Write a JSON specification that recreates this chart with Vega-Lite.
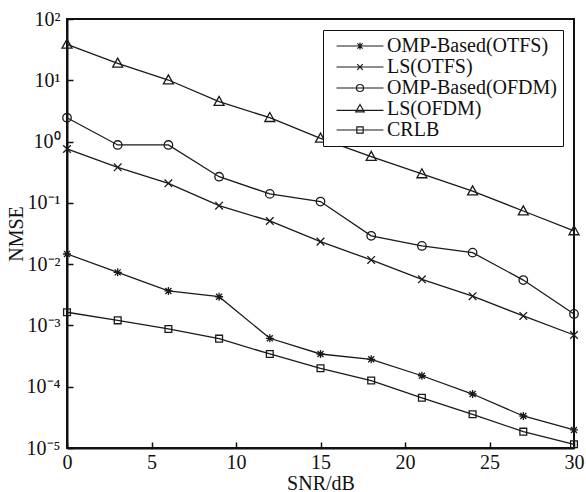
{
  "$schema": "https://vega.github.io/schema/vega-lite/v6.json",
  "width": 507,
  "height": 429,
  "autosize": "none",
  "padding": {"left": 67, "top": 19, "right": 12, "bottom": 44},
  "background": "white",
  "config": {
    "font": "Liberation Serif",
    "view": {"stroke": "#111", "strokeWidth": 2},
    "axis": {
      "domainColor": "#111", "domainWidth": 2,
      "tickColor": "#111", "tickWidth": 1.5, "tickSize": -6,
      "labelFont": "Liberation Serif", "labelFontSize": 20, "labelColor": "#111",
      "titleFont": "Liberation Serif", "titleFontSize": 20, "titleFontWeight": "normal", "titleColor": "#111",
      "grid": false
    },
    "legend": {
      "labelFont": "Liberation Serif", "labelFontSize": 20, "labelColor": "#111", "labelLimit": 400
    }
  },
  "data": {"values": [
    {"snr": 0, "series": "OMP-Based(OTFS)", "nmse": 0.01465},
    {"snr": 3, "series": "OMP-Based(OTFS)", "nmse": 0.00735},
    {"snr": 6, "series": "OMP-Based(OTFS)", "nmse": 0.00365},
    {"snr": 9, "series": "OMP-Based(OTFS)", "nmse": 0.00294},
    {"snr": 12, "series": "OMP-Based(OTFS)", "nmse": 0.000617},
    {"snr": 15, "series": "OMP-Based(OTFS)", "nmse": 0.000342},
    {"snr": 18, "series": "OMP-Based(OTFS)", "nmse": 0.00028},
    {"snr": 21, "series": "OMP-Based(OTFS)", "nmse": 0.000151},
    {"snr": 24, "series": "OMP-Based(OTFS)", "nmse": 0.000076},
    {"snr": 27, "series": "OMP-Based(OTFS)", "nmse": 0.0000333},
    {"snr": 30, "series": "OMP-Based(OTFS)", "nmse": 0.0000197},
    {"snr": 0, "series": "LS(OTFS)", "nmse": 0.757},
    {"snr": 3, "series": "LS(OTFS)", "nmse": 0.38},
    {"snr": 6, "series": "LS(OTFS)", "nmse": 0.208},
    {"snr": 9, "series": "LS(OTFS)", "nmse": 0.09},
    {"snr": 12, "series": "LS(OTFS)", "nmse": 0.0506},
    {"snr": 15, "series": "LS(OTFS)", "nmse": 0.0233},
    {"snr": 18, "series": "LS(OTFS)", "nmse": 0.0117},
    {"snr": 21, "series": "LS(OTFS)", "nmse": 0.00566},
    {"snr": 24, "series": "LS(OTFS)", "nmse": 0.003},
    {"snr": 27, "series": "LS(OTFS)", "nmse": 0.00143},
    {"snr": 30, "series": "LS(OTFS)", "nmse": 0.000698},
    {"snr": 0, "series": "OMP-Based(OFDM)", "nmse": 2.45},
    {"snr": 3, "series": "OMP-Based(OFDM)", "nmse": 0.88},
    {"snr": 6, "series": "OMP-Based(OFDM)", "nmse": 0.88},
    {"snr": 9, "series": "OMP-Based(OFDM)", "nmse": 0.267},
    {"snr": 12, "series": "OMP-Based(OFDM)", "nmse": 0.14},
    {"snr": 15, "series": "OMP-Based(OFDM)", "nmse": 0.105},
    {"snr": 18, "series": "OMP-Based(OFDM)", "nmse": 0.029},
    {"snr": 21, "series": "OMP-Based(OFDM)", "nmse": 0.0198},
    {"snr": 24, "series": "OMP-Based(OFDM)", "nmse": 0.0154},
    {"snr": 27, "series": "OMP-Based(OFDM)", "nmse": 0.0055},
    {"snr": 30, "series": "OMP-Based(OFDM)", "nmse": 0.00154},
    {"snr": 0, "series": "LS(OFDM)", "nmse": 38.6},
    {"snr": 3, "series": "LS(OFDM)", "nmse": 18.9},
    {"snr": 6, "series": "LS(OFDM)", "nmse": 10.1},
    {"snr": 9, "series": "LS(OFDM)", "nmse": 4.48},
    {"snr": 12, "series": "LS(OFDM)", "nmse": 2.45},
    {"snr": 15, "series": "LS(OFDM)", "nmse": 1.13},
    {"snr": 18, "series": "LS(OFDM)", "nmse": 0.57},
    {"snr": 21, "series": "LS(OFDM)", "nmse": 0.296},
    {"snr": 24, "series": "LS(OFDM)", "nmse": 0.156},
    {"snr": 27, "series": "LS(OFDM)", "nmse": 0.0736},
    {"snr": 30, "series": "LS(OFDM)", "nmse": 0.0348},
    {"snr": 0, "series": "CRLB", "nmse": 0.00164},
    {"snr": 3, "series": "CRLB", "nmse": 0.00121},
    {"snr": 6, "series": "CRLB", "nmse": 0.000875},
    {"snr": 9, "series": "CRLB", "nmse": 0.000608},
    {"snr": 12, "series": "CRLB", "nmse": 0.000342},
    {"snr": 15, "series": "CRLB", "nmse": 0.0002},
    {"snr": 18, "series": "CRLB", "nmse": 0.000126},
    {"snr": 21, "series": "CRLB", "nmse": 0.000066},
    {"snr": 24, "series": "CRLB", "nmse": 0.0000355},
    {"snr": 27, "series": "CRLB", "nmse": 0.0000185},
    {"snr": 30, "series": "CRLB", "nmse": 0.0000115}
  ]},
  "encoding": {
    "x": {
      "field": "snr", "type": "quantitative",
      "scale": {"domain": [0, 30], "nice": false, "zero": false},
      "axis": {"values": [0, 5, 10, 15, 20, 25, 30], "title": "SNR/dB", "labelPadding": 10, "titlePadding": 1, "labelFlush": false}
    },
    "y": {
      "field": "nmse", "type": "quantitative",
      "scale": {"type": "log", "domain": [0.00001, 100], "nice": false},
      "axis": {
        "values": [0.00001, 0.0001, 0.001, 0.01, 0.1, 1, 10, 100],
        "labelExpr": "['10⁻⁵','10⁻⁴','10⁻³','10⁻²','10⁻¹','10⁰','10¹','10²'][round(log(datum.value)/LN10)+5]",
        "title": "NMSE", "labelPadding": 13, "titlePadding": 0, "labelFlush": false
      }
    }
  },
  "layer": [
    {
      "mark": {"type": "line", "color": "#1a1a1a", "strokeWidth": 1.3},
      "encoding": {"detail": {"field": "series"}}
    },
    {
      "mark": {"type": "point", "filled": false, "color": "#1a1a1a", "strokeWidth": 1.3, "opacity": 1, "size": 64},
      "encoding": {
        "shape": {
          "field": "series", "type": "nominal", "legend": null,
          "scale": {
            "domain": ["OMP-Based(OTFS)", "LS(OTFS)", "OMP-Based(OFDM)", "LS(OFDM)", "CRLB"],
            "range": [
              "M-1,0L1,0M0,-1L0,1M-0.75,-0.75L0.75,0.75M-0.75,0.75L0.75,-0.75",
              "M-0.95,-0.95L0.95,0.95M-0.95,0.95L0.95,-0.95",
              "M1.06,0A1.06,1.06,0,1,1,-1.06,0A1.06,1.06,0,1,1,1.06,0Z",
              "M0,-1.3L1.25,0.95L-1.25,0.95Z",
              "M-0.85,-0.85L0.85,-0.85L0.85,0.85L-0.85,0.85Z"
            ]
          }
        }
      }
    },
    {
      "transform": [{"filter": "datum.snr < -100"}],
      "mark": {"type": "point", "filled": false, "color": "#1a1a1a", "strokeWidth": 1.2, "opacity": 1},
      "encoding": {
        "shape": {
          "field": "series", "type": "nominal",
          "scale": {
            "domain": ["OMP-Based(OTFS)", "LS(OTFS)", "OMP-Based(OFDM)", "LS(OFDM)", "CRLB"],
            "range": [
              "M-6.7,0L6.7,0M0,-1L0,1M-0.75,-0.75L0.75,0.75M-0.75,0.75L0.75,-0.75",
              "M-6.7,0L6.7,0M-0.8,-0.8L0.8,0.8M-0.8,0.8L0.8,-0.8",
              "M-6.7,0L6.7,0M1,0A1,1,0,1,1,-1,0A1,1,0,1,1,1,0",
              "M-6.7,0.4L6.7,0.4M0,-1.3L1.2,0.8L-1.2,0.8Z",
              "M-6.7,0L6.7,0M-0.9,-0.9L0.9,-0.9L0.9,0.9L-0.9,0.9Z"
            ]
          },
          "legend": {
            "title": null,
            "orient": "top-right",
            "offset": 11,
            "padding": 6,
            "strokeColor": "#111",
            "fillColor": "white",
            "symbolSize": 49,
            "symbolStrokeWidth": 1.2,
            "symbolStrokeColor": "#1a1a1a",
            "symbolFillColor": "transparent",
            "symbolOffset": 21,
            "labelOffset": 17,
            "rowPadding": 1,
            "encode": {
              "legend": {"update": {"strokeWidth": {"value": 1.3}}}
            }
          }
        }
      }
    }
  ],
  "resolve": {"scale": {"shape": "independent"}}
}
